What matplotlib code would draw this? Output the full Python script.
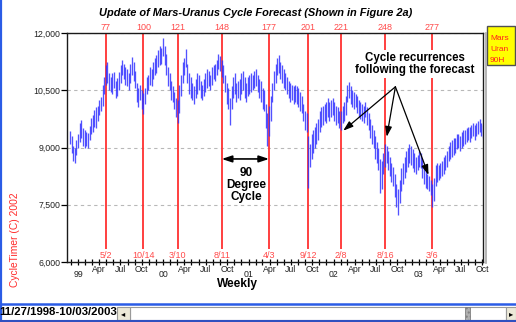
import matplotlib
matplotlib.use('Agg')
import matplotlib.pyplot as plt
import matplotlib.dates as mdates
from matplotlib.lines import Line2D
from matplotlib.patches import Rectangle
from matplotlib.ticker import FuncFormatter
import pandas as pd

plt.rcParams['font.family'] = ['Liberation Sans', 'DejaVu Sans']

# weekly Dow bars, 11/27/1998 .. 10/03/2003 (week numbers 55..308)
first_week = 55
lows = [
    9080, 8850, 8640, 8600, 8800, 8980, 9150, 9250, 9050, 9000,
    9050, 9000, 9200, 9350, 9400, 9550, 9500, 9700, 9850, 9950,
    10100, 10400, 10650, 10700, 10500, 10450, 10400, 10550, 10300, 10350,
    10500, 10700, 10900, 10800, 10650, 10600, 10500, 10700, 10900, 10750,
    10550, 10200, 10050, 10250, 10000, 9880, 10150, 10400, 10500, 10650,
    10600, 10800, 10900, 10950, 11100, 11150, 11200, 11400, 11150, 10900,
    10600, 10500, 10250, 10200, 10000, 9800, 9650, 9900, 10350, 10700,
    10900, 11100, 10700, 10400, 10300, 10250, 10150, 10300, 10400, 10500,
    10300, 10250, 10350, 10450, 10550, 10600, 10500, 10650, 10800, 10750,
    10900, 11050, 11000, 10850, 10700, 10450, 10150, 10000, 9600, 10000,
    10300, 10400, 10200, 10300, 10250, 10400, 10500, 10300, 10200, 10350,
    10400, 10450, 10500, 10550, 10600, 10450, 10300, 10200, 10000, 9950,
    9500, 9050, 9300, 9700, 10200, 10500, 10700, 10900, 10950, 10800,
    10700, 10550, 10500, 10400, 10300, 10200, 10250, 10150, 10200, 10150,
    10050, 9950, 9900, 9700, 9450, 9400, 7950, 8500, 8700, 8850,
    9000, 9100, 9200, 9400, 9550, 9600, 9700, 9650, 9800, 9700,
    9800, 9850, 9700, 9600, 9650, 9500, 9450, 9650, 9700, 9850,
    10200, 10300, 10150, 10050, 10000, 10050, 9900, 9800, 9750, 9700,
    9650, 9800, 9600, 9450, 9250, 9100, 9000, 8700, 8600, 8400,
    7800, 7900, 8300, 8500, 8600, 8400, 8250, 8100, 8000, 7700,
    7450, 7230, 7550, 7850, 8050, 8200, 8350, 8500, 8600, 8550,
    8450, 8350, 8300, 8400, 8500, 8450, 8200, 8050, 7950, 7900,
    7850, 7750, 7450, 7600, 8000, 8100, 8150, 8200, 8250, 8300,
    8400, 8500, 8650, 8700, 8750, 8800, 8850, 8950, 9000, 8900,
    9000, 9050, 9100, 9150, 9200, 9150, 9250, 9300, 9200, 9300,
    9350, 9400, 9300, 9250,
]
highs = [
    9420, 9300, 9050, 8980, 9200, 9350, 9650, 9720, 9500, 9450,
    9400, 9380, 9560, 9780, 9850, 9980, 10050, 10100, 10250, 10320,
    10650, 10850, 11150, 11250, 10950, 10850, 10950, 10980, 10750, 10820,
    10980, 11150, 11300, 11200, 11100, 11050, 10950, 11200, 11380, 11250,
    11000, 10700, 10550, 10650, 10500, 10420, 10550, 10850, 10900, 11100,
    11050, 11250, 11350, 11420, 11550, 11650, 11600, 11860, 11650, 11450,
    11100, 10950, 10750, 10600, 10450, 10300, 10250, 10650, 10900, 11250,
    11350, 11580, 11200, 10950, 10850, 10700, 10600, 10800, 10950, 10900,
    10750, 10650, 10800, 10950, 11050, 11000, 10900, 11100, 11150, 11200,
    11300, 11450, 11400, 11300, 11150, 10900, 10700, 10550, 10300, 10600,
    10850, 10950, 10700, 10750, 10800, 10950, 11000, 10850, 10700, 10850,
    10900, 10950, 10900, 11000, 11050, 10900, 10800, 10750, 10550, 10500,
    10150, 9900, 10100, 10350, 10700, 11000, 11200, 11350, 11420, 11250,
    11150, 11050, 10950, 10850, 10750, 10700, 10650, 10600, 10650, 10600,
    10550, 10450, 10350, 10150, 9950, 9900, 9300, 9100, 9350, 9450,
    9550, 9650, 9750, 9950, 10050, 10100, 10150, 10200, 10300, 10200,
    10250, 10300, 10200, 10100, 10050, 9950, 9950, 10100, 10200, 10350,
    10650, 10720, 10600, 10500, 10450, 10400, 10350, 10250, 10200, 10150,
    10100, 10200, 10050, 9900, 9750, 9600, 9450, 9300, 9150, 9000,
    8700, 8650, 8850, 9100, 9050, 8900, 8750, 8600, 8500, 8300,
    8050, 7900, 8150, 8450, 8600, 8750, 8900, 9000, 9100, 9050,
    8950, 8850, 8750, 8800, 8900, 8850, 8700, 8500, 8400, 8300,
    8250, 8150, 8050, 8200, 8550, 8600, 8550, 8600, 8650, 8750,
    8800, 8900, 9050, 9150, 9200, 9250, 9250, 9350, 9350, 9300,
    9400, 9450, 9450, 9500, 9550, 9550, 9600, 9650, 9600, 9650,
    9700, 9750, 9650, 9600,
]
dates = pd.date_range('1998-11-27', periods=len(highs), freq='7D')

# cycle dates and their week numbers
cycle_weeks = [77, 100, 121, 148, 177, 201, 221, 248, 277]
cycle_dates = ['5/2', '10/14', '3/10', '8/11', '4/3', '9/12', '2/8', '8/16', '3/6']

# arrow tips for the "cycle recurrences" note (week, price)
recur_from = (254.4, 10590)
recur_tips = [(222.4, 9440), (249.1, 9280), (274.7, 8280)]

y_ticks = [6000, 7500, 9000, 10500, 12000]


def week_date(k):
    return dates[0] + pd.Timedelta(days=7 * (k - first_week))


W, H = 516, 322
fig = plt.figure(figsize=(W / 100, H / 100), dpi=100)
fig.patch.set_facecolor('white')


def fx(x):
    return x / W


def fy(y):
    return 1 - y / H


ax = fig.add_axes([fx(67), fy(262), 416 / W, 229 / H])

# red cycle lines with week numbers on top and dates at the bottom
for k, lbl in zip(cycle_weeks, cycle_dates):
    d = week_date(k)
    ax.vlines(d, 6330, 12000, color='#ff3030', lw=1.3, zorder=2)
    ax.annotate(str(k), (d, 12000), xytext=(0, 1.0), textcoords='offset points',
                ha='center', va='bottom', color='#ff4a4a', fontsize=6.5,
                annotation_clip=False)
    ax.text(d, 6165, lbl, ha='center', va='center', color='#ff4a4a', fontsize=6.5)

# weekly high-low bars
ax.vlines(dates, lows, highs, color='#3434ff', lw=0.95, alpha=0.85, zorder=3)

ax.set_ylim(6000, 12000)
ax.set_xlim(week_date(53.2), pd.Timestamp('2003-10-03 12:00'))
ax.set_yticks(y_ticks)
ax.yaxis.set_major_formatter(FuncFormatter(lambda v, p: f'{v:,.0f}'))
ax.yaxis.grid(True, color='#b8b8b8', linestyle=(0, (3, 3)), lw=0.8)
ax.set_axisbelow(True)
ax.tick_params(axis='y', length=4, width=0.9, labelsize=6.3, labelcolor='#222222', pad=1)

# months as minor ticks (Apr/Jul/Oct labelled), years as major ticks
ax.xaxis.set_major_locator(mdates.YearLocator())
ax.xaxis.set_major_formatter(mdates.DateFormatter('%y'))
ax.xaxis.set_minor_locator(mdates.MonthLocator())


def month_label(v, p):
    d = mdates.num2date(v)
    return d.strftime('%b') if d.month in (4, 7, 10) else ''


ax.xaxis.set_minor_formatter(FuncFormatter(month_label))
ax.tick_params(axis='x', which='both', direction='inout', length=5, width=0.9,
               labelsize=6.3, labelcolor='#222222')
ax.tick_params(axis='x', which='minor', pad=0)
ax.tick_params(axis='x', which='major', pad=3)
for s in ax.spines.values():
    s.set_color('#1a1a1a')
    s.set_linewidth(1.0)

# annotations
ax.text(week_date(266.2), 11188, 'Cycle recurrences\nfollowing the forecast',
        ha='center', va='center', fontsize=8.3, weight='bold', linespacing=1.1,
        bbox=dict(facecolor='white', edgecolor='none', pad=1), zorder=5)
for k, v in recur_tips:
    ax.annotate('', xy=(week_date(k), v), xytext=(week_date(recur_from[0]), recur_from[1]),
                arrowprops=dict(arrowstyle='-|>,head_length=0.6,head_width=0.2',
                                color='black', lw=0.9, shrinkA=0, shrinkB=0), zorder=6)

ax.annotate('', xy=(week_date(177), 8700), xytext=(week_date(148), 8700),
            arrowprops=dict(arrowstyle='<|-|>,head_length=0.6,head_width=0.2',
                            color='black', lw=1.2, shrinkA=0, shrinkB=0), zorder=6)
ax.text(week_date(162.9), 8018, '90\nDegree\nCycle', ha='center', va='center',
        fontsize=8.5, weight='bold', linespacing=1.05, zorder=5)

# titles and side texts
fig.text(fx(255.5), fy(13), 'Update of Mars-Uranus Cycle Forecast (Shown in Figure 2a)',
         ha='center', va='center', fontsize=7.9, weight='bold', style='italic')
fig.text(fx(237.5), fy(284), 'Weekly', ha='center', va='center', fontsize=8.6, weight='bold')
fig.text(fx(15), fy(240), 'CycleTimer (C) 2002', ha='center', va='center',
         rotation=90, color='#ff2a2a', fontsize=7.4)

# Mars/Uranus legend box
fig.add_artist(Rectangle((fx(487), fy(65)), 28 / W, 39 / H, transform=fig.transFigure,
                         facecolor='#ffff00', edgecolor='#505050', lw=1.0))
for yy, t in zip([38, 49.5, 60.5], ['Mars', 'Uran', '90H']):
    fig.text(fx(490), fy(yy), t, ha='left', va='center', color='#ff2020', fontsize=6)

# frame shadow on the right of the plot
fig.add_artist(Line2D([fx(485.5), fx(485.5)], [fy(33), fy(263)], color='#a8a8a8', lw=1.2))

# window border and bottom scroll strip
blue = '#2b5ce6'
fig.add_artist(Line2D([fx(0.8), fx(0.8)], [0, 1], color=blue, lw=1.6))
fig.add_artist(Line2D([0, 1], [fy(304), fy(304)], color=blue, lw=1.8))
fig.add_artist(Line2D([0, 1], [fy(321), fy(321)], color='#3050c0', lw=1.5))
fig.add_artist(Rectangle((fx(130), fy(320)), 376 / W, 13 / H, transform=fig.transFigure,
                         facecolor='white', edgecolor='#9a9a9a', lw=0.8))
fig.add_artist(Rectangle((fx(117), fy(320)), 13 / W, 13 / H, transform=fig.transFigure,
                         facecolor='#ece9d8', edgecolor='#9a9a9a', lw=0.8))
fig.add_artist(Rectangle((fx(465), fy(320)), 5 / W, 13 / H, transform=fig.transFigure,
                         facecolor='#b0b0b0', edgecolor='#808080', lw=0.6, hatch='....'))
fig.add_artist(Rectangle((fx(506), fy(320)), 10 / W, 13 / H, transform=fig.transFigure,
                         facecolor='#ece9d8', edgecolor='#9a9a9a', lw=0.8))
fig.text(fx(123.5), fy(313.5), '\u25c2', ha='center', va='center', fontsize=6,
         family=['DejaVu Sans'])
fig.text(fx(511), fy(313.5), '\u25b8', ha='center', va='center', fontsize=6,
         family=['DejaVu Sans'])
fig.text(fx(-1), fy(312), '11/27/1998-10/03/2003', ha='left', va='center',
         fontsize=8.2, weight='bold')

fig.savefig('out.png', dpi=100)
